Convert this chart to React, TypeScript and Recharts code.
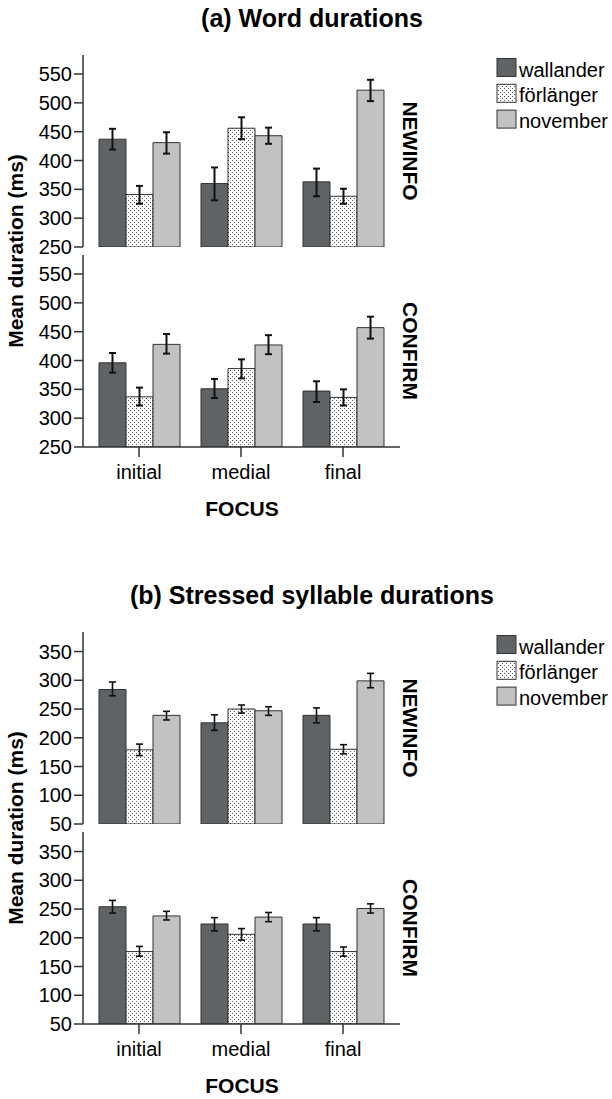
import React from "react";
import { Bar, BarChart, ErrorBar, XAxis, YAxis } from "recharts";

const FONT = "'Liberation Sans', Arial, Helvetica, sans-serif";
const INK = "#000";
const LINE = "#333";

const focusCategories = ["initial", "medial", "final"];
const seriesNames = ["wallander", "förlänger", "november"];
const panelLabels = ["NEWINFO", "CONFIRM"];

// rows follow seriesNames, columns follow focusCategories
// (a) word durations
const wordNewinfoMean = [
  [437, 360, 363],
  [341, 456, 338],
  [431, 443, 522],
];
const wordNewinfoLow = [
  [419, 331, 338],
  [325, 437, 325],
  [412, 429, 503],
];
const wordNewinfoHigh = [
  [455, 388, 386],
  [356, 475, 351],
  [449, 457, 540],
];
const wordConfirmMean = [
  [396, 351, 347],
  [337, 386, 336],
  [428, 427, 457],
];
const wordConfirmLow = [
  [379, 335, 328],
  [322, 369, 322],
  [412, 411, 438],
];
const wordConfirmHigh = [
  [413, 368, 364],
  [353, 402, 350],
  [446, 444, 476],
];

// (b) stressed syllable durations
const syllNewinfoMean = [
  [284, 226, 239],
  [179, 250, 180],
  [239, 247, 299],
];
const syllNewinfoLow = [
  [273, 213, 226],
  [169, 243, 172],
  [231, 239, 287],
];
const syllNewinfoHigh = [
  [297, 240, 252],
  [189, 257, 188],
  [246, 254, 312],
];
const syllConfirmMean = [
  [254, 224, 224],
  [176, 206, 176],
  [238, 236, 251],
];
const syllConfirmLow = [
  [243, 212, 212],
  [168, 196, 168],
  [231, 228, 243],
];
const syllConfirmHigh = [
  [265, 235, 235],
  [185, 216, 184],
  [246, 244, 259],
];

const wordTicks = [250, 300, 350, 400, 450, 500, 550];
const syllTicks = [50, 100, 150, 200, 250, 300, 350];

const PLOT_H = 192;

function buildRows(mean: number[][], low: number[][], high: number[][]) {
  return focusCategories.map((focus, c) => {
    const row: Record<string, any> = { focus };
    seriesNames.forEach((_, s) => {
      row[`s${s}`] = mean[s][c];
      row[`e${s}`] = [mean[s][c] - low[s][c], high[s][c] - mean[s][c]];
    });
    return row;
  });
}

// sparse staggered dots, like the print pattern of the original
function DotPattern({ id }: { id: string }) {
  return (
    <pattern id={id} width={4} height={4} patternUnits="userSpaceOnUse">
      <rect width={4} height={4} fill="#fff" />
      <rect x={0} y={0} width={1} height={1} fill="#555" />
      <rect x={2} y={2} width={1} height={1} fill="#555" />
    </pattern>
  );
}

const fillFor = (s: number, patternId: string) =>
  s === 0 ? "#5f6366" : s === 1 ? `url(#${patternId})` : "#c1c2c4";

type PanelProps = {
  id: string;
  rows: Record<string, any>[];
  domain: [number, number];
  ticks: number[];
  top: number;
  showX: boolean;
  errStroke: number;
};

function Panel({ id, rows, domain, ticks, top, showX, errStroke }: PanelProps) {
  const bottom = showX ? 0 : 15;
  const xHeight = showX ? 40 : 0;
  const patternId = `dots-${id}`;
  return (
    <div style={{ position: "absolute", left: 0, top: 0 }}>
      <BarChart
        width={404}
        height={top + PLOT_H + xHeight + bottom}
        data={rows}
        margin={{ top, right: 4, bottom, left: 0 }}
        barGap={0}
        barSize={27}
      >
        <defs>
          <DotPattern id={patternId} />
        </defs>
        <XAxis
          dataKey="focus"
          padding={{ left: 5, right: 6 }}
          height={xHeight}
          axisLine={{ stroke: LINE, strokeWidth: 1.5 }}
          tick={showX ? { fontSize: 20, fill: INK, fontFamily: FONT } : false}
          tickLine={showX ? { stroke: LINE, strokeWidth: 1.5 } : false}
          tickSize={10}
          tickMargin={8}
        />
        <XAxis
          xAxisId="top"
          orientation="top"
          dataKey="focus"
          height={0}
          tick={false}
          tickLine={false}
          axisLine={{ stroke: LINE, strokeWidth: 1.5 }}
        />
        <YAxis
          type="number"
          domain={domain}
          ticks={ticks}
          interval={0}
          allowDataOverflow
          width={83}
          tickSize={9}
          tickMargin={2}
          axisLine={{ stroke: LINE, strokeWidth: 1.5 }}
          tickLine={{ stroke: LINE, strokeWidth: 1.5 }}
          tick={{ fontSize: 20, fill: INK, fontFamily: FONT }}
        />
        <YAxis
          yAxisId="right"
          orientation="right"
          type="number"
          domain={domain}
          width={0}
          tick={false}
          tickLine={false}
          axisLine={{ stroke: LINE, strokeWidth: 1.5 }}
        />
        {seriesNames.map((name, s) => (
          <Bar
            key={name}
            dataKey={`s${s}`}
            name={name}
            fill={fillFor(s, patternId)}
            stroke={LINE}
            strokeWidth={1}
            isAnimationActive={false}
          >
            <ErrorBar dataKey={`e${s}`} width={3.5} stroke="#111" strokeWidth={errStroke} />
          </Bar>
        ))}
      </BarChart>
    </div>
  );
}

function Overlay({ title, id, height }: { title: string; id: string; height: number }) {
  const patternId = `legend-dots-${id}`;
  return (
    <svg
      width={612}
      height={height}
      style={{ position: "absolute", left: 0, top: 0, pointerEvents: "none" }}
      fontFamily={FONT}
    >
      <defs>
        <DotPattern id={patternId} />
      </defs>
      <text x={312} y={27} textAnchor="middle" fontSize={25} fontWeight="bold" fill={INK}>
        {title}
      </text>
      <text
        transform="translate(15,251) rotate(-90)"
        textAnchor="middle"
        dominantBaseline="central"
        fontSize={21}
        fontWeight="bold"
        fill={INK}
      >
        Mean duration (ms)
      </text>
      {panelLabels.map((label, i) => (
        <text
          key={label}
          transform={`translate(410,${151 + i * 200}) rotate(90)`}
          textAnchor="middle"
          dominantBaseline="central"
          fontSize={21}
          fontWeight="bold"
          fill={INK}
        >
          {label}
        </text>
      ))}
      <text x={242} y={516} textAnchor="middle" fontSize={21} fontWeight="bold" fill={INK}>
        FOCUS
      </text>
      {seriesNames.map((name, s) => {
        const y = 58.5 + s * 25.8;
        return (
          <g key={name}>
            <rect x={497} y={y} width={19} height={18} fill={fillFor(s, patternId)} stroke={LINE} strokeWidth={1} />
            <text x={519} y={y + 18} fontSize={20} fill={INK}>
              {name}
            </text>
          </g>
        );
      })}
    </svg>
  );
}

type FigureProps = {
  id: string;
  title: string;
  top: number;
  height: number;
  domain: [number, number];
  ticks: number[];
  newinfo: Record<string, any>[];
  confirm: Record<string, any>[];
  errStroke: number;
};

function Figure({ id, title, top, height, domain, ticks, newinfo, confirm, errStroke }: FigureProps) {
  return (
    <div style={{ position: "absolute", left: 0, top, width: 612, height }}>
      <Panel id={`${id}-n`} rows={newinfo} domain={domain} ticks={ticks} top={55} showX={false} errStroke={errStroke} />
      <Panel id={`${id}-c`} rows={confirm} domain={domain} ticks={ticks} top={255} showX errStroke={errStroke} />
      <Overlay title={title} id={id} height={height} />
    </div>
  );
}

export default function App() {
  return (
    <div style={{ position: "absolute", left: 0, top: 0, width: 612, height: 1099, background: "#fff" }}>
      <Figure
        id="a"
        title="(a) Word durations"
        top={0}
        height={560}
        domain={[250, 583]}
        ticks={wordTicks}
        newinfo={buildRows(wordNewinfoMean, wordNewinfoLow, wordNewinfoHigh)}
        confirm={buildRows(wordConfirmMean, wordConfirmLow, wordConfirmHigh)}
        errStroke={2}
      />
      <Figure
        id="b"
        title="(b) Stressed syllable durations"
        top={577}
        height={522}
        domain={[50, 384]}
        ticks={syllTicks}
        newinfo={buildRows(syllNewinfoMean, syllNewinfoLow, syllNewinfoHigh)}
        confirm={buildRows(syllConfirmMean, syllConfirmLow, syllConfirmHigh)}
        errStroke={1.6}
      />
    </div>
  );
}
